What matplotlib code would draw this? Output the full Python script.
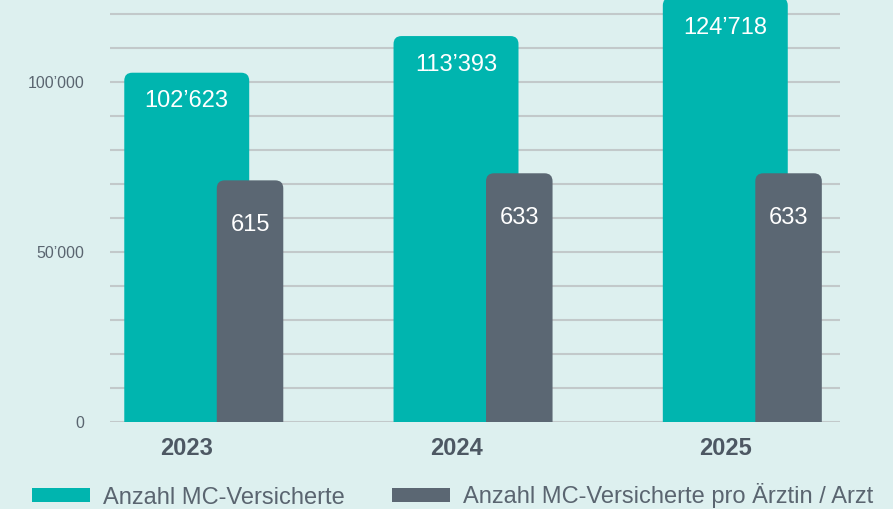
"""
MC-Versicherte 2023-2025: grouped bars with rounded tops.
"""
import matplotlib

matplotlib.use("Agg")
import matplotlib.pyplot as plt
from matplotlib.patches import FancyBboxPatch, Patch
from matplotlib.ticker import FuncFormatter, MultipleLocator

# ---------------------------------------------------------------------------
# Data
# ---------------------------------------------------------------------------
years = ["2023", "2024", "2025"]
versicherte = [102623, 113393, 124718]
pro_arzt = [615, 633, 633]
series_labels = ["Anzahl MC-Versicherte", "Anzahl MC-Versicherte pro Ärztin / Arzt"]

# ---------------------------------------------------------------------------
# Style
# ---------------------------------------------------------------------------
BG = "#ddf0ef"
TEAL = "#00b5af"
SLATE = "#5b6773"
TEXT = "#5a6570"
GRID = "#c2c9ca"
FONT = ["Liberation Sans", "DejaVu Sans"]

plt.rcParams["font.family"] = FONT

W, H = 893, 509
fig = plt.figure(figsize=(W / 100, H / 100), dpi=100, facecolor=BG)
ax = fig.add_axes([110 / W, 87 / H, 730 / W, 422 / H])
ax.set_facecolor(BG)

x_lo, x_hi = -0.285, 2.426
y_hi = 123987
ax.set_xlim(x_lo, x_hi)
ax.set_ylim(0, y_hi)

ax2 = ax.twinx()
y2_hi = 1074
ax2.set_ylim(0, y2_hi)
ax2.patch.set_visible(False)

for a in (ax, ax2):
    for s in a.spines.values():
        s.set_visible(False)

ax.yaxis.set_major_locator(MultipleLocator(10000))
ax.yaxis.set_major_formatter(
    FuncFormatter(lambda v, _: f"{int(v):,}".replace(",", "’") if v % 50000 == 0 else "")
)
ax.tick_params(axis="y", length=0, pad=18.7, labelsize=11.5, labelcolor=TEXT)
ax.grid(axis="y", color=GRID, linewidth=1.5)
ax.set_axisbelow(True)
ax2.set_yticks([])

ax.set_xticks(range(len(years)))
ax.set_xticklabels(years, fontsize=17, fontweight="bold", color="#4d5863")
ax.tick_params(axis="x", length=0, pad=11)

teal_w = 0.464
slate_w = 0.247
slate_off = 0.235
radius_px = 8

ax_w_px = 730
ax_h_px = 422
xpp = (x_hi - x_lo) / ax_w_px


def rounded_bar(axis, xc, width, height, ypp, color):
    r = radius_px * xpp
    aspect = ypp / xpp
    p = FancyBboxPatch(
        (xc - width / 2, -radius_px * ypp * 2),
        width,
        height + radius_px * ypp * 2,
        boxstyle=f"round,pad=0,rounding_size={r}",
        mutation_aspect=aspect,
        facecolor=color,
        edgecolor="none",
    )
    axis.add_patch(p)


ypp1 = y_hi / ax_h_px
ypp2 = y2_hi / ax_h_px

for i, v in enumerate(versicherte):
    rounded_bar(ax, i, teal_w, v, ypp1, TEAL)
    ax.annotate(
        f"{v:,}".replace(",", "’"),
        (i, min(v, y_hi)),
        xytext=(0, -20.5),
        textcoords="offset points",
        ha="center",
        va="center",
        color="white",
        fontsize=17,
    )

for i, v in enumerate(pro_arzt):
    xc = i + slate_off
    rounded_bar(ax2, xc, slate_w, v, ypp2, SLATE)
    ax2.annotate(
        str(v),
        (xc, v),
        xytext=(0, -32.4),
        textcoords="offset points",
        ha="center",
        va="center",
        color="white",
        fontsize=17,
    )

handles = [Patch(facecolor=TEAL, edgecolor="none"), Patch(facecolor=SLATE, edgecolor="none")]
fig.legend(
    handles,
    series_labels,
    loc="center left",
    bbox_to_anchor=(11 / W, 13 / H),
    ncol=2,
    frameon=False,
    fontsize=17,
    labelcolor=TEXT,
    handlelength=2.45,
    handleheight=0.55,
    handletextpad=0.55,
    columnspacing=2.0,
)

fig.savefig("out.png", dpi=100, facecolor=BG)
